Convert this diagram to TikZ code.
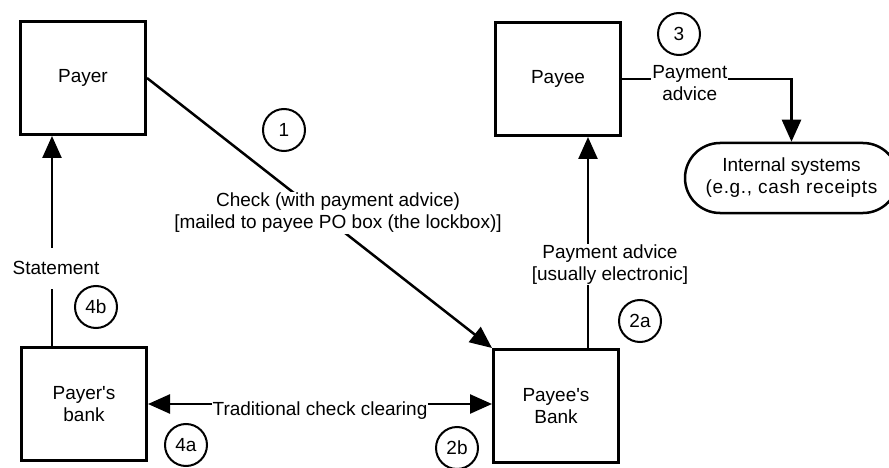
\documentclass[tikz,border=0pt]{standalone}
\usepackage{fontspec}
\setmainfont{Liberation Sans}[Ligatures=TeXOff]
\usetikzlibrary{arrows.meta}
\begin{document}
\begin{tikzpicture}[x=1pt,y=-1pt,
  box/.style={draw, line width=3pt, minimum width=125pt, minimum height=113pt, align=center, inner sep=0pt},
  num/.style={draw, circle, line width=2pt, minimum size=42pt, inner sep=0pt},
  conn/.style={line width=2.5pt},
  tip/.tip={Triangle[length=22pt,width=19pt]},
  arr/.style={conn, -tip},
  lab/.style={fill=white, align=center, inner sep=1pt},
  font=\fontsize{19}{22}\selectfont]
\useasboundingbox (0,0) rectangle (889,468);
\node[box] (payer) at (83,78) {Payer};
\node[box] (payee) at (558,79) {Payee};
\node[box] (pb) at (84,404) {Payer's\\bank};
\node[box] (peb) at (556,406) {Payee's\\Bank};
\node[draw, line width=2.5pt, rounded corners=35pt, minimum width=213pt, minimum height=70pt, align=center, inner sep=0pt] (int) at (791.5,178) {Internal systems\\{\addfontfeature{LetterSpace=3.5}(e.g., cash receipts}};

\draw[arr] (payer.east) -- node[lab, pos=0.5, xshift=18.5pt] {Check (with payment advice)\\{[mailed to payee PO box (the lockbox)]}} (peb.north west);
\draw[arr] ([xshift=32pt]peb.north) -- node[lab, pos=0.396, xshift=22pt] {Payment advice\\{[usually electronic]}} ([xshift=30pt]payee.south);
\draw[arr] (payee.east) -| node[lab, pos=0.2, yshift=-4pt] {Payment\\advice} (int.north);
\draw[arr] ([xshift=-32pt]pb.north) -- node[lab, pos=0.37, minimum height=41pt, xshift=4pt] {Statement} ([xshift=-31pt]payer.south);
\draw[conn, tip-tip] (pb.east) -- node[lab, pos=0.5, yshift=-7pt] {Traditional check clearing} (pb.east -| peb.west);

\node[num] (c1) at (284,130) {1};
\node[num] (c3) at (679,34) {3};
\node[num] (c4b) at (96,307) {4b};
\node[num] (c2a) at (640,321) {2a};
\node[num] (c4a) at (186,445) {4a};
\node[num] (c2b) at (457,448) {2b};
\end{tikzpicture}
\end{document}
